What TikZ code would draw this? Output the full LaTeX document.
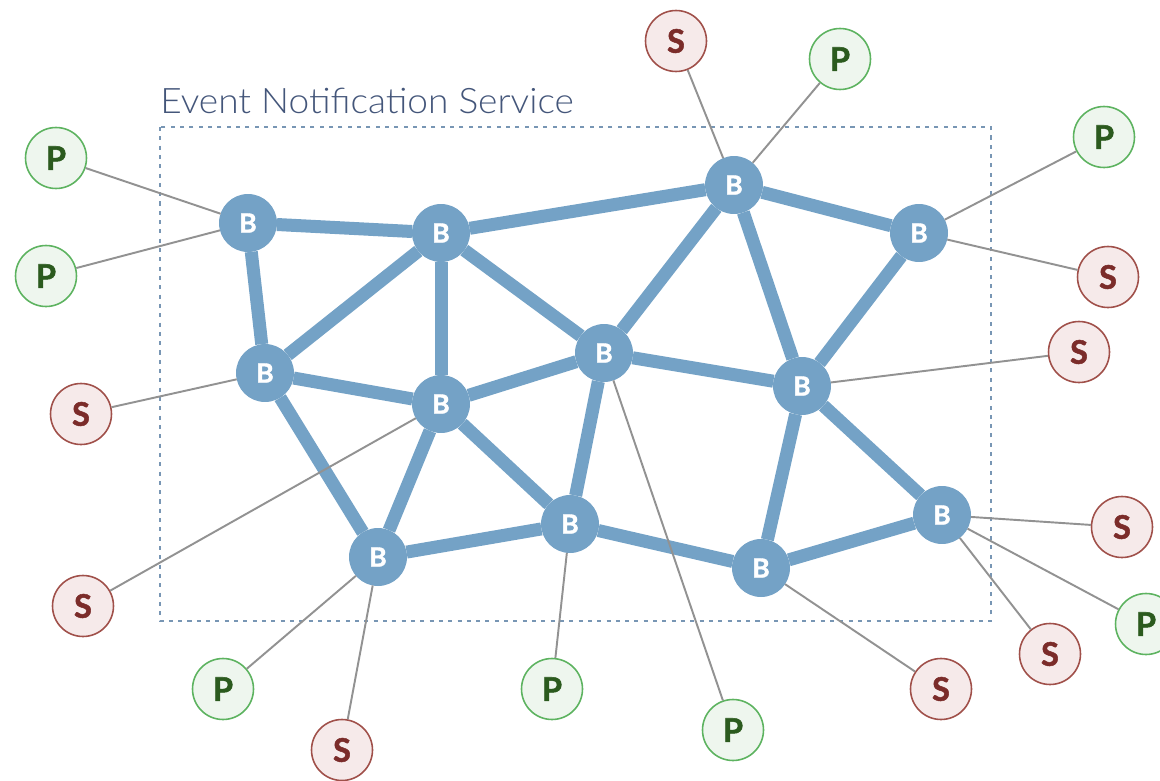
\documentclass[tikz,border=0pt]{standalone}
\usepackage{fontspec}
\setmainfont{Lato}[BoldFeatures={FakeBold=1.6}]
\newfontfamily\titlefont{Lato Light}[FakeStretch=1.055]
\definecolor{bblue}{HTML}{74A2C6}
\definecolor{sfill}{HTML}{F6EAEA}
\definecolor{sdraw}{HTML}{A0504A}
\definecolor{stext}{HTML}{7B2C2A}
\definecolor{pfill}{HTML}{EEF6EE}
\definecolor{pdraw}{HTML}{5DB360}
\definecolor{ptext}{HTML}{2B5A1E}
\definecolor{titlec}{HTML}{44567A}
\definecolor{rectc}{HTML}{7896B4}
\definecolor{thinc}{HTML}{929292}
\begin{document}
\begin{tikzpicture}[x=0.02cm,y=-0.02cm,
  broker/.style={circle, fill=bblue, minimum size=1.16cm, inner sep=0pt, outer sep=0pt,
    text=white, font=\bfseries\fontsize{15}{15}\selectfont},
  subn/.style={circle, fill=sfill, draw=sdraw, line width=0.9pt, minimum size=1.22cm, inner sep=0pt,
    text=stext, font=\bfseries\fontsize{18.5}{18.5}\selectfont},
  pubn/.style={circle, fill=pfill, draw=pdraw, line width=0.9pt, minimum size=1.22cm, inner sep=0pt,
    text=ptext, font=\bfseries\fontsize{18.5}{18.5}\selectfont},
  bedge/.style={draw=bblue, line width=7.4pt},
  tedge/.style={draw=thinc, line width=1.1pt},
  svcbox/.style={draw=rectc, line width=1.1pt, dash pattern=on 2.3pt off 3pt}
]
\useasboundingbox (0,0) rectangle (1160,781);

% service box and title
\draw[svcbox] (160,127) rectangle (991,621);
\node[anchor=base west, inner sep=0pt, text=titlec, font=\titlefont\fontsize{20}{20}\selectfont] (title) at (160,113) {Event Notification Service};

% brokers
\node[broker] (b1) at (248,223) {B};
\node[broker] (b2) at (441,233) {B};
\node[broker] (b3) at (734,185) {B};
\node[broker] (b4) at (919,233) {B};
\node[broker] (b5) at (265,373) {B};
\node[broker] (b6) at (441,404) {B};
\node[broker] (b7) at (604,353) {B};
\node[broker] (b8) at (802,386) {B};
\node[broker] (b9) at (378,557) {B};
\node[broker] (b10) at (570,524) {B};
\node[broker] (b11) at (761,568) {B};
\node[broker] (b12) at (942,515) {B};

% clients
\node[subn] (s1) at (676,41) {S};
\node[pubn] (p1) at (840,59) {P};
\node[pubn] (p2) at (1104,137) {P};
\node[subn] (s2) at (1108,277) {S};
\node[subn] (s3) at (1079,352) {S};
\node[subn] (s4) at (1122,527) {S};
\node[pubn] (p3) at (1146,624) {P};
\node[subn] (s5) at (1050,654) {S};
\node[subn] (s6) at (941,689) {S};
\node[pubn] (p4) at (733,730) {P};
\node[pubn] (p5) at (552,689) {P};
\node[subn] (s7) at (342,750) {S};
\node[pubn] (p6) at (223,689) {P};
\node[subn] (s8) at (83,606) {S};
\node[subn] (s9) at (81,414) {S};
\node[pubn] (p7) at (46,276) {P};
\node[pubn] (p8) at (56,158) {P};

% broker mesh
\path[bedge] (b1) -- (b2);
\path[bedge] (b2) -- (b3);
\path[bedge] (b3) -- (b4);
\path[bedge] (b1) -- (b5);
\path[bedge] (b2) -- (b5);
\path[bedge] (b2) -- (b6);
\path[bedge] (b2) -- (b7);
\path[bedge] (b3) -- (b7);
\path[bedge] (b3) -- (b8);
\path[bedge] (b4) -- (b8);
\path[bedge] (b5) -- (b6);
\path[bedge] (b6) -- (b7);
\path[bedge] (b7) -- (b8);
\path[bedge] (b5) -- (b9);
\path[bedge] (b6) -- (b9);
\path[bedge] (b6) -- (b10);
\path[bedge] (b7) -- (b10);
\path[bedge] (b9) -- (b10);
\path[bedge] (b10) -- (b11);
\path[bedge] (b8) -- (b11);
\path[bedge] (b8) -- (b12);
\path[bedge] (b11) -- (b12);

% client links
\path[tedge] (b3) -- (s1);
\path[tedge] (b3) -- (p1);
\path[tedge] (b4) -- (p2);
\path[tedge] (b4) -- (s2);
\path[tedge] (b8) -- (s3);
\path[tedge] (b12) -- (s4);
\path[tedge] (b12) -- (p3);
\path[tedge] (b12) -- (s5);
\path[tedge] (b11) -- (s6);
\path[tedge] (b7) -- (p4);
\path[tedge] (b10) -- (p5);
\path[tedge] (b9) -- (s7);
\path[tedge] (b9) -- (p6);
\path[tedge] (b6) -- (s8);
\path[tedge] (b5) -- (s9);
\path[tedge] (b1) -- (p7);
\path[tedge] (b1) -- (p8);
\end{tikzpicture}
\end{document}
